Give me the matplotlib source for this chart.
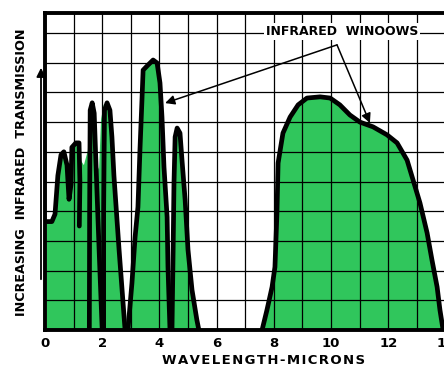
import matplotlib.pyplot as plt

# green area under the first group of narrow windows (microns, grid units)
group_x = [0.07, 0.07, 0.24, 0.35, 0.45, 0.56, 0.66, 0.77, 0.84, 0.91, 0.94, 1.08, 1.19,
           1.26, 1.36, 1.50, 1.57, 1.68, 1.75, 1.82, 1.89, 1.96, 2.06, 2.24, 2.34,
           2.41, 2.59, 2.80]
group_y = [0.0, 3.65, 3.65, 3.9, 5.2, 5.9, 6.0, 5.55, 4.4, 4.9, 6.15, 6.3, 6.3,
           5.7, 5.55, 6.05, 7.5, 7.6, 6.9, 5.55, 5.4, 7.1, 7.6, 7.55, 7.1,
           5.2, 2.7, 0.0]

# black outlines of the single windows
hump_x = [0.07, 0.24, 0.35, 0.45, 0.56, 0.66, 0.77, 0.84, 0.91, 0.94, 1.08, 1.19, 1.22, 1.20]
hump_y = [3.65, 3.65, 3.9, 5.2, 5.9, 6.0, 5.55, 4.4, 4.9, 6.15, 6.3, 6.3, 5.0, 3.5]

spike1_x = [1.55, 1.56, 1.58, 1.65, 1.72, 1.78, 1.90, 2.00]
spike1_y = [0.0, 4.0, 7.4, 7.65, 7.3, 5.65, 2.5, 0.0]

spike2_x = [2.05, 2.05, 2.08, 2.17, 2.27, 2.34, 2.41, 2.59, 2.80]
spike2_y = [0.0, 4.0, 7.4, 7.65, 7.4, 6.5, 5.2, 2.7, 0.0]

peak_x = [2.90, 3.04, 3.15, 3.25, 3.32, 3.39, 3.43, 3.60, 3.78, 3.92, 4.02, 4.09,
          4.16, 4.27, 4.30, 4.37]
peak_y = [0.0, 1.58, 3.13, 4.14, 6.06, 7.74, 8.75, 8.92, 9.09, 8.99, 8.32, 7.17,
          5.49, 3.8, 2.12, 0.0]

small_x = [4.44, 4.48, 4.51, 4.55, 4.62, 4.72, 4.79, 4.90, 5.00, 5.14, 5.31, 5.38]
small_y = [0.0, 2.7, 4.95, 6.5, 6.8, 6.63, 5.72, 4.38, 2.7, 1.35, 0.34, 0.0]

wide_x = [7.59, 7.76, 7.94, 8.04, 8.11, 8.15, 8.32, 8.57, 8.85, 9.16, 9.62, 9.97,
          10.31, 10.66, 11.01, 11.47, 11.96, 12.31, 12.66, 12.87, 13.11, 13.36,
          13.53, 13.71, 13.81, 13.92]
wide_y = [0.0, 0.67, 1.45, 2.12, 3.94, 5.62, 6.63, 7.17, 7.58, 7.81, 7.85, 7.81,
          7.58, 7.24, 7.0, 6.84, 6.57, 6.30, 5.72, 5.05, 4.28, 3.27,
          2.36, 1.45, 0.67, 0.0]

fills = [(group_x, group_y), (peak_x, peak_y), (small_x, small_y), (wide_x, wide_y)]
outlines = [(hump_x, hump_y), (spike1_x, spike1_y), (spike2_x, spike2_y),
            (peak_x, peak_y), (small_x, small_y), (wide_x, wide_y)]

green = '#30c65c'

fig = plt.figure(figsize=(4.44, 3.67), dpi=100)
ax = fig.add_axes([45 / 444, 37 / 367, 405 / 444, 317.5 / 367])

for fx, fy in fills:
    ax.fill(fx, fy, color=green, lw=0, zorder=1)
for ox, oy in outlines:
    ax.plot(ox, oy, color='black', lw=3.4, solid_joinstyle='round',
            solid_capstyle='round', zorder=3)

ax.set_xlim(0, 405 / 28.6)
ax.set_ylim(0, 317.5 / 29.7)
ax.set_xticks(range(0, 15))
ax.set_yticks(range(0, 11))
ax.grid(True, color='black', lw=0.9, zorder=2)
ax.set_axisbelow(False)
ax.tick_params(length=0, labelleft=False, pad=5)
ax.set_xticklabels([str(v) if v % 2 == 0 else '' for v in range(0, 15)],
                   fontsize=9.5, fontweight='bold')
for s in ['left', 'bottom', 'top']:
    ax.spines[s].set_linewidth(2.8)
ax.spines['right'].set_visible(False)

fig.text(264 / 444, 1 - 360 / 367, '\u200a'.join('WAVELENGTH-MICRONS'),
         ha='center', va='center', fontsize=9.5, fontweight='bold')
fig.text(22 / 444, 1 - 172 / 367, 'INCREASING  INFRARED  TRANSMISSION',
         rotation=90, ha='center', va='center', fontsize=9.2, fontweight='bold')

# vertical arrow beside the y label
ax.annotate('', xy=(41 / 444, 1 - 65 / 367), xytext=(41 / 444, 1 - 282 / 367),
            xycoords='figure fraction', textcoords='figure fraction',
            arrowprops=dict(arrowstyle='-|>', color='black', lw=1.3,
                            mutation_scale=13))

# label and pointers to the windows
ax.text(10.38, 10.05, 'INFRARED  WINOOWS', ha='center', va='center',
        fontsize=9, fontweight='bold', zorder=5,
        bbox=dict(facecolor='white', edgecolor='none', pad=1.5))
apex = (10.21, 9.6)
for tip in [(4.2, 7.64), (11.36, 6.97)]:
    ax.annotate('', xy=tip, xytext=apex, zorder=6,
                arrowprops=dict(arrowstyle='-|>', color='black', lw=1.1,
                                mutation_scale=14, shrinkA=0, shrinkB=0))

fig.savefig('out.png', dpi=100)
